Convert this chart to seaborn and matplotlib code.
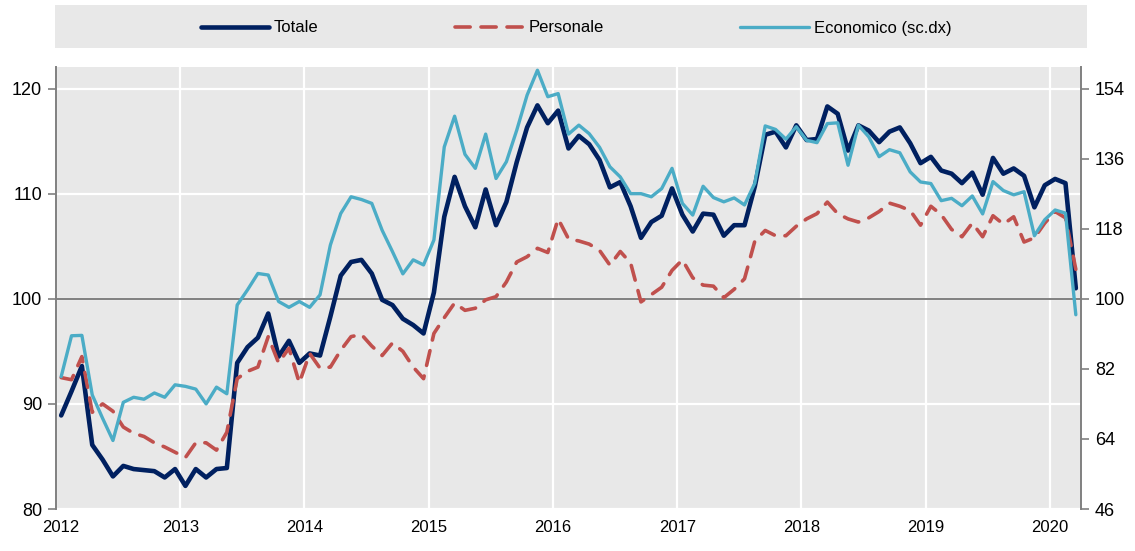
import numpy as np
import pandas as pd
import matplotlib
matplotlib.use("Agg")
import matplotlib.pyplot as plt
import matplotlib.transforms as mtransforms
import seaborn as sns
from matplotlib.lines import Line2D
from matplotlib.patches import Rectangle

# ---------------- data (monthly, Jan 2012 - Mar 2020) ----------------
year_ticks = [2012, 2013, 2014, 2015, 2016, 2017, 2018, 2019, 2020]
left_ticks = [80, 90, 100, 110, 120]
right_ticks = [46, 64, 82, 100, 118, 136, 154]
series_names = ["Totale", "Personale", "Economico (sc.dx)"]

totale = [
    88.9, 91.2, 93.6, 86.1, 84.7, 83.1, 84.1, 83.8, 83.7, 83.6, 83.0, 83.8,
    82.2, 83.8, 83.0, 83.8, 83.9, 93.9, 95.4, 96.3, 98.6, 94.5, 96.0, 93.9,
    94.8, 94.6, 98.3, 102.2, 103.5, 103.7, 102.4, 99.9, 99.4, 98.1, 97.5, 96.7,
    100.6, 107.8, 111.6, 108.8, 106.8, 110.4, 107.0, 109.2, 113.0, 116.3, 118.4, 116.7,
    117.9, 114.3, 115.5, 114.7, 113.2, 110.6, 111.1, 108.8, 105.8, 107.3, 107.9, 110.5,
    108.0, 106.4, 108.1, 108.0, 106.0, 107.0, 107.0, 110.7, 115.6, 115.9, 114.4, 116.5,
    115.1, 115.2, 118.3, 117.6, 114.1, 116.5, 116.0, 114.9, 115.9, 116.3, 114.8, 112.9,
    113.5, 112.2, 111.9, 111.0, 112.0, 109.9, 113.4, 111.9, 112.4, 111.7, 108.7, 110.8,
    111.4, 111.0, 101.0,
]
personale = [
    92.5, 92.3, 94.5, 89.2, 90.0, 89.3, 87.8, 87.2, 86.9, 86.3, 85.9, 85.4,
    84.9, 86.3, 86.3, 85.6, 87.3, 92.4, 93.1, 93.5, 96.4, 93.9, 95.3, 92.0,
    94.8, 93.4, 93.5, 95.1, 96.4, 96.6, 95.5, 94.6, 95.8, 95.0, 93.5, 92.4,
    96.7, 98.2, 99.6, 98.9, 99.1, 99.9, 100.2, 101.6, 103.5, 104.0, 104.8, 104.4,
    107.6, 105.7, 105.5, 105.2, 104.6, 103.2, 104.5, 103.4, 99.7, 100.4, 101.1, 102.7,
    103.7, 102.0, 101.3, 101.2, 100.1, 100.9, 101.9, 105.5, 106.5, 106.0, 106.0, 106.9,
    107.6, 108.1, 109.2, 108.1, 107.6, 107.3, 107.7, 108.3, 109.1, 108.8, 108.4, 107.0,
    108.8, 108.0, 106.6, 105.9, 107.2, 105.9, 107.9, 107.1, 107.8, 105.4, 105.8, 107.2,
    108.3, 107.7, 102.8,
]
economico = [
    80.0, 90.5, 90.6, 75.3, 69.3, 63.6, 73.4, 74.7, 74.2, 75.8, 74.7, 77.9,
    77.5, 76.8, 73.0, 77.3, 75.6, 98.4, 102.3, 106.5, 106.1, 99.3, 97.8, 99.3,
    97.8, 101.0, 113.8, 121.9, 126.2, 125.5, 124.5, 117.6, 112.1, 106.4, 110.0, 108.7,
    115.1, 139.0, 146.9, 137.1, 133.5, 142.3, 130.9, 135.2, 143.3, 152.3, 158.7, 151.9,
    152.7, 142.3, 144.6, 142.4, 138.9, 133.9, 131.3, 127.0, 127.0, 126.2, 128.3, 133.5,
    124.5, 121.5, 128.9, 126.0, 124.9, 125.9, 124.1, 129.7, 144.4, 143.5, 141.0, 144.2,
    140.7, 140.1, 145.0, 145.2, 134.3, 144.6, 141.6, 136.5, 138.3, 137.5, 132.6, 130.0,
    129.6, 125.2, 125.8, 123.9, 126.4, 121.8, 130.1, 127.8, 126.7, 127.5, 116.2, 120.3,
    122.8, 122.0, 95.9,
]

n = len(totale)
df = pd.DataFrame({
    "t": 2012 + (np.arange(n) + 0.5) / 12.0,
    series_names[0]: totale,
    series_names[1]: personale,
    series_names[2]: economico,
})

# ---------------- style ----------------
sns.set_theme(style="white")
plt.rcParams["font.family"] = ["Liberation Sans", "DejaVu Sans"]

NAVY = "#002060"
RED = "#C0504D"
LBLUE = "#4BACC6"
BG = "#E8E8E8"
GRAY = "#808080"

W, H = 1135, 551
fig = plt.figure(figsize=(W / 100, H / 100), dpi=100)
L, R, T, B = 56, 1081, 67, 509
ax = fig.add_axes([L / W, 1 - B / H, (R - L) / W, (B - T) / H])
ax.set_facecolor(BG)

# legend background box
fig.add_artist(Rectangle((55 / W, 1 - 48 / H), (1087 - 55) / W, 43 / H,
                         transform=fig.transFigure, facecolor=BG,
                         edgecolor="none", zorder=0))

DASH = [4.2, 3.0]

# lines on left axis
sns.lineplot(data=df, x="t", y=series_names[0], ax=ax, color=NAVY, lw=3.3,
             solid_joinstyle="round", zorder=3)
sns.lineplot(data=df, x="t", y=series_names[1], ax=ax, color=RED, lw=2.6, zorder=4)
ax.lines[-1].set_dashes(DASH)
ax.lines[-1].set_dash_capstyle("round")

ax.set_xlim(2012, 2012 + n / 12.0)
ax.set_ylim(80, 122.05)
ax.set_xticks(year_ticks)
ax.set_xticklabels([str(y) for y in year_ticks])
ax.set_yticks(left_ticks)
ax.set_xlabel("")
ax.set_ylabel("")
ax.grid(True, color="white", lw=1.6, zorder=0)
ax.set_axisbelow(True)
ax.axhline(100, color=GRAY, lw=1.4, zorder=2)

# right axis
ax2 = ax.twinx()
sns.lineplot(data=df, x="t", y=series_names[2], ax=ax2, color=LBLUE, lw=2.4,
             solid_joinstyle="round", zorder=3)
ax2.set_ylim(46, 46 + (122.05 - 80) * 2.7)
ax2.set_yticks(right_ticks)
ax2.set_ylabel("")
ax2.grid(False)

for a in (ax, ax2):
    for s in ("top", "bottom"):
        a.spines[s].set_visible(False)
ax.spines["right"].set_visible(False)
ax2.spines["left"].set_visible(False)
ax.spines["left"].set_color(GRAY)
ax.spines["left"].set_linewidth(1.4)
ax2.spines["right"].set_color(GRAY)
ax2.spines["right"].set_linewidth(1.4)

ax.tick_params(axis="y", direction="out", length=6, width=1.2, color=GRAY,
               labelsize=13, pad=4, left=True, labelcolor="black")
ax.tick_params(axis="x", length=0, labelsize=12, pad=8, labelcolor="black")
ax2.tick_params(axis="y", direction="out", length=6, width=1.2, color=GRAY,
                labelsize=13, pad=4, right=True, labelcolor="black")
# first year label sits a few pixels right of the spine in the reference
lab0 = ax.get_xticklabels()[0]
lab0.set_transform(lab0.get_transform() +
                   mtransforms.ScaledTranslation(5 / 100, 0, fig.dpi_scale_trans))

# legend
handles = [
    Line2D([], [], color=NAVY, lw=3.3),
    Line2D([], [], color=RED, lw=2.6, dashes=DASH, dash_capstyle="round"),
    Line2D([], [], color=LBLUE, lw=2.4),
]
leg = fig.legend(handles, series_names, loc="center",
                 bbox_to_anchor=(576 / W, 1 - 28 / H), ncol=3, frameon=False,
                 handlelength=4.1, handletextpad=0.3, columnspacing=8.2,
                 fontsize=12)
for t in leg.get_texts():
    t.set_color("black")

fig.savefig("out.png", dpi=100)
